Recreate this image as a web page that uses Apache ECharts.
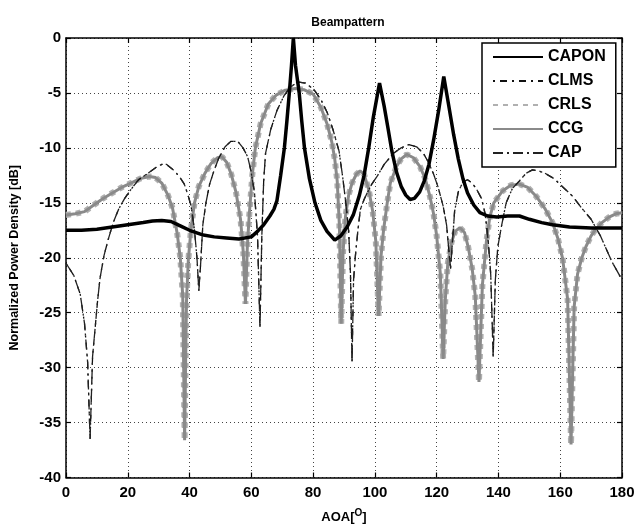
<!DOCTYPE html>
<html><head><meta charset="utf-8">
<script src="https://cdn.jsdelivr.net/npm/echarts@6/dist/echarts.min.js"></script>
<style>html,body{margin:0;padding:0;background:#fff}#c{width:641px;height:529px}</style>
</head><body><div id="c"></div>
<script>
// ---- data ----
const xTicks = [0,20,40,60,80,100,120,140,160,180];
const yTicks = [0,-5,-10,-15,-20,-25,-30,-35,-40];

const caponAng = [0,5,10,15,20,25,28,31,34,37,40,44,48,52,56,60,62,64,66,67.3,68.3,69.5,70.7,71.5,72.3,73,73.6,74.3,75.5,76.3,77.2,78.8,80.6,82.5,84.5,87,89,91,93,95,96.5,98,99.5,101.5,103,104.3,105.5,107,108.5,110,111.4,112.8,114.5,116,117.5,119,120.7,122.3,124,125.5,127,128.5,130,132,134,136.5,139.5,143,146.8,150,154,157.5,163,170,175,180];
const caponDb  = [-17.5,-17.5,-17.4,-17.2,-17.0,-16.8,-16.65,-16.6,-16.7,-17.1,-17.5,-17.9,-18.1,-18.2,-18.3,-18.1,-17.6,-17.0,-16.2,-15.6,-14.8,-12.5,-10.0,-7.6,-5.0,-2.5,0,-2.5,-5.0,-7.5,-10.0,-12.8,-15.0,-16.6,-17.6,-18.4,-18.0,-17.2,-16.1,-14.3,-12.5,-10.0,-7.2,-4.1,-6.2,-8.3,-10.3,-12.2,-13.5,-14.3,-14.7,-14.6,-14.0,-13.0,-11.5,-9.3,-6.5,-3.5,-6.3,-8.8,-11.0,-12.8,-14.1,-15.2,-15.9,-16.2,-16.3,-16.2,-16.2,-16.5,-16.8,-17.0,-17.2,-17.3,-17.3,-17.3];

const grayAng = [0,3,6,9,12,15,18,21,24,27,29,31,33,34.5,36,37,37.8,38.4,39,39.6,40.5,41.6,43,45,47,49,50.5,52,53.5,55,56.5,57.4,58.1,58.7,59.3,60.3,61.3,63,65.5,68,71,74.2,77,80,82.5,84.5,86,87,87.8,88.5,89.1,89.7,90.5,91.5,92.6,94,95.2,96.5,98,99.3,100.3,101.2,102,102.8,104,105,107,108.5,110.3,112.5,114.6,116.3,117.8,119,120,121.2,122.1,122.8,123.6,124.8,126,127.5,129,130.2,131.5,132.5,133.7,134.8,136.1,137.2,138.5,141.4,144,146.8,149.5,152.2,155,157.5,159.3,160.8,162.4,163.5,164.5,165.6,167,168.3,170,171.5,173.5,175.8,178,180];
const ccgDb = [-16.1,-16.0,-15.8,-15.2,-14.6,-14.1,-13.6,-13.2,-12.8,-12.6,-12.7,-13.2,-14.3,-15.5,-17.8,-20.0,-23.5,-36.6,-24.0,-20.2,-17.3,-15.0,-13.5,-12.3,-11.4,-10.9,-10.8,-11.3,-12.4,-14.0,-16.5,-19.5,-24.2,-19.0,-16.2,-12.5,-10.0,-7.8,-6.0,-5.2,-4.75,-4.6,-4.7,-5.1,-6.3,-7.8,-9.4,-11.0,-13.0,-17.0,-26.0,-19.5,-16.2,-14.3,-13.2,-12.4,-12.1,-12.4,-13.8,-15.8,-18.5,-25.3,-19.8,-17.5,-15.0,-13.2,-11.7,-11.0,-10.6,-10.9,-11.7,-12.8,-14.4,-16.0,-18.0,-21.5,-29.2,-23.8,-20.5,-18.6,-17.6,-17.25,-17.7,-19.0,-21.0,-23.5,-31.3,-22.5,-18.5,-16.3,-15.0,-13.9,-13.4,-13.3,-13.6,-14.4,-15.5,-16.8,-18.3,-20.1,-23.8,-37.0,-24.5,-21.5,-20.0,-19.0,-18.0,-17.4,-16.8,-16.3,-16.0,-15.9];
const crlsDb = ccgDb; // CRLS and CCG coincide in the picture

const dashAng = [0,2.5,4.6,6,7,7.8,8.6,9.4,10.2,11,12.3,13.7,15.3,17,19,20.7,23.5,26.6,29,31,32.5,34.7,36.7,38.3,39.5,40.5,41.6,42.4,43,43.6,44.3,45.3,46.5,48,49.5,51.5,53.4,55.6,57.3,58.8,59.8,61,62,62.8,63.4,64,64.6,66.3,68.3,70.5,72.5,75,77.5,80.3,82.5,84.6,86.5,88.4,89.5,90.5,91.5,92.1,92.6,93.1,93.7,94.5,95.3,96.5,97.5,99,100.7,103,106,108.5,111,113.5,115.7,117.3,118.9,120.5,122.1,123.2,124,124.5,125,125.8,127,128.5,130,131.5,133,134.5,135.7,136.7,137.5,138.3,139,139.8,141,142.5,144.5,146.8,149,151,153,155,158,161,164,167,170,173,176.8,180];
const clmsDb = [-20.5,-21.6,-23.3,-26,-29.5,-36.5,-29,-26.5,-24,-21.9,-19.8,-18.3,-16.8,-15.6,-14.6,-13.9,-12.9,-12.3,-11.8,-11.5,-11.5,-12.0,-12.6,-13.3,-14.3,-15.3,-17.5,-20.0,-23.0,-20.5,-17.0,-15.0,-13.3,-12.0,-10.9,-9.9,-9.4,-9.4,-10.0,-10.8,-12.0,-14.0,-18.0,-26.3,-18.0,-13.0,-10.5,-8.3,-6.6,-5.3,-4.5,-4.0,-4.1,-4.7,-5.6,-6.8,-8.4,-10.3,-12.5,-14.8,-17.5,-21.5,-29.5,-22.0,-19.8,-17.5,-15.6,-14.7,-14.1,-13.3,-12.6,-11.5,-10.5,-10.0,-9.7,-9.9,-10.5,-11.3,-12.3,-13.6,-15.3,-17.0,-19.5,-21,-19.0,-15.8,-14.0,-13.1,-12.9,-13.2,-13.8,-14.6,-16.0,-18.5,-21.5,-29.0,-22.0,-19.0,-17.1,-15.0,-13.7,-13.0,-12.3,-12.0,-12.1,-12.3,-12.8,-13.6,-14.4,-15.5,-16.5,-18.0,-20.4,-22.0];
const capDb = clmsDb; // CAP and CLMS coincide in the picture

const names = ['CAPON','CLMS','CRLS','CCG','CAP'];

// ---- chart ----
const zip = (a, b) => a.map((v, i) => [v, b[i]]);
const FONT = "'Liberation Sans', Arial, Helvetica, sans-serif";
const chart = echarts.init(document.getElementById('c'), null, {renderer: 'canvas'});

const gridLine = {show: true, lineStyle: {color: '#444', width: 1, type: [1, 3]}};
const axisLine = {show: true, onZero: false, lineStyle: {color: '#000', width: 1.5}};
const tickIn = {show: true, inside: true, length: 5, lineStyle: {color: '#000', width: 1.2}};

chart.setOption({
  animation: false,
  backgroundColor: '#fff',
  title: {
    text: 'Beampattern', left: 343, top: 12, textAlign: 'center',
    textStyle: {fontFamily: FONT, fontSize: 12, fontWeight: 'bold', color: '#000'}
  },
  grid: {left: 65, right: 19, top: 38, bottom: 50, containLabel: false},
  legend: {
    data: names, orient: 'vertical', left: 482, top: 43,
    itemWidth: 50, itemHeight: 14, itemGap: 8,
    padding: [6, 10, 6, 10],
    borderColor: '#000', borderWidth: 1.5, backgroundColor: '#fff',
    itemStyle: {opacity: 0},
    textStyle: {fontFamily: FONT, fontSize: 16, fontWeight: 'bold', color: '#000'}
  },
  xAxis: [{
    type: 'value', min: 0, max: 180, interval: 20, position: 'bottom',
    axisLine, axisTick: tickIn, splitLine: gridLine,
    axisLabel: {fontFamily: FONT, fontSize: 15, fontWeight: 'bold', color: '#000', margin: 8, customValues: xTicks},
    name: '{a|AOA[}{s|O}{a|]}', nameLocation: 'middle', nameGap: 31,
    nameTextStyle: {rich: {
      a: {fontFamily: FONT, fontSize: 13, fontWeight: 'bold', color: '#000'},
      s: {fontFamily: FONT, fontSize: 10, fontWeight: 'bold', color: '#000', verticalAlign: 'top', padding: [0, 0, 8, 0]}
    }}
  }, {
    type: 'value', min: 0, max: 180, interval: 20, position: 'top',
    axisLine, axisTick: tickIn, axisLabel: {show: false}, splitLine: {show: false}
  }],
  yAxis: [{
    type: 'value', min: -40, max: 0, interval: 5, position: 'left',
    axisLine, axisTick: tickIn, splitLine: gridLine,
    axisLabel: {fontFamily: FONT, fontSize: 15, fontWeight: 'bold', color: '#000', margin: 5},
    name: 'Normalized Power Density [dB]', nameLocation: 'middle', nameGap: 45, nameRotate: 90,
    nameTextStyle: {fontFamily: FONT, fontSize: 12.5, fontWeight: 'bold', color: '#000'}
  }, {
    type: 'value', min: -40, max: 0, interval: 5, position: 'right',
    axisLine, axisTick: tickIn, axisLabel: {show: false}, splitLine: {show: false}
  }],
  series: [
    {name: 'CAPON', type: 'line', data: zip(caponAng, caponDb), symbol: 'none', z: 5,
     lineStyle: {color: '#000', width: 3.5}, itemStyle: {color: '#000'}},
    {name: 'CLMS', type: 'line', data: zip(dashAng, clmsDb), symbol: 'none', z: 4,
     lineStyle: {color: '#111', width: 1.3, type: [2, 5, 7, 5]}, itemStyle: {color: '#111'}},
    {name: 'CRLS', type: 'line', data: zip(grayAng, crlsDb), symbol: 'none', z: 2,
     lineStyle: {color: '#b0b0b0', width: 6, type: [5, 5]}, itemStyle: {color: '#b0b0b0'}},
    {name: 'CCG', type: 'line', data: zip(grayAng, ccgDb), symbol: 'none', z: 3,
     lineStyle: {color: '#8a8a8a', width: 3}, itemStyle: {color: '#8a8a8a'}},
    {name: 'CAP', type: 'line', data: zip(dashAng, capDb), symbol: 'none', z: 4,
     lineStyle: {color: '#222', width: 1.3, type: [10, 4, 2, 4]}, itemStyle: {color: '#222'}}
  ]
});
</script></body></html>
